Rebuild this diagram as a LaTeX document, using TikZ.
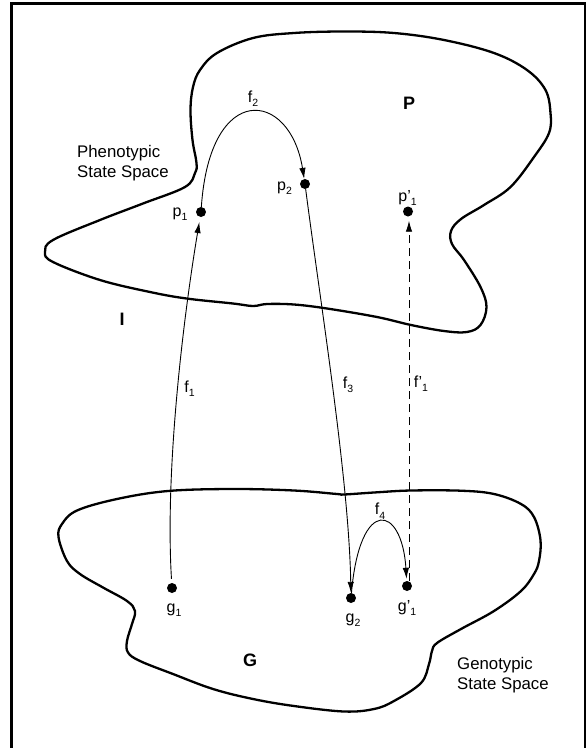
\documentclass[tikz,border=0pt]{standalone}
\usepackage{fontspec}
\setmainfont{Liberation Sans}
\usetikzlibrary{arrows.meta}
% lowered index digit for state labels
\newcommand{\sbs}[1]{\raisebox{-4.4pt}{\fontsize{10.5}{10.5}\selectfont #1}}
\begin{document}
\begin{tikzpicture}[x=1pt,y=-1pt,
  blob/.style={line width=2.3pt, line join=round},
  dot/.style={circle, fill=black, inner sep=0pt, minimum size=10pt},
  arr/.style={line width=0.9pt, -{Latex[length=11pt,width=6.5pt]}},
  lab/.style={inner sep=0pt, anchor=base, font=\fontsize{16}{16}\selectfont},
  txt/.style={inner sep=0pt, anchor=base west, font=\fontsize{16.8}{20}\selectfont},
  big/.style={inner sep=0pt, anchor=base, font=\fontsize{18}{18}\selectfont\bfseries}]
\useasboundingbox (0,0) rectangle (588,748);

% frame
\draw[line width=2.7pt] (11.5,752) -- (11.5,3.5) -- (585,3.5) -- (585,752);

% phenotypic state space
\draw[blob] plot[smooth cycle, tension=0.6] coordinates {
  (294,33) (344,31.5) (394,33) (444,40) (494,53) (527,70) (545.5,90)
  (550.5,113) (549,133) (534,157) (510.5,187) (484,205) (461,219)
  (451,231) (452,244) (464,260) (480.5,287) (486.5,307) (480.5,325)
  (467,332) (444,331) (411,325) (377,317) (327,308.5) (294,304.5)
  (267,304) (253,306) (233,303.5) (186.5,298.5) (150,292) (100,280)
  (53,262) (45,252) (53,240) (100,220) (143,203.5) (185,187) (195,173)
  (196.5,163) (192.5,140) (190.5,110) (193,87) (200,70) (217,53) (253,38)};

% genotypic state space
\draw[blob] plot[smooth cycle, tension=0.6] coordinates {
  (168,491) (233,489) (294,490.5) (337,494) (344,494.5) (377,492.3)
  (411,490.5) (461,490.7) (494,494) (521,504) (534,517) (540.5,540)
  (539,561) (534,574) (521,591) (494,611) (461,629) (437,643) (432,651)
  (429,664) (421,683) (394,701) (374,709) (344,711.5) (294,706) (253,699)
  (213,689) (173,674) (140,661) (128,652.5) (127,641) (132,624) (135,611)
  (127,601) (103,587.5) (80,574) (67,561) (58.5,537) (62,524) (77,510.5)
  (117,499)};

% states
\node[dot] (p1)  at (201,212) {};
\node[dot] (p2)  at (305,184) {};
\node[dot] (p1p) at (408,211.5) {};
\node[dot] (g1)  at (172,588) {};
\node[dot] (g2)  at (351,598) {};
\node[dot] (g1p) at (407,586) {};

% state labels
\node[lab] (lp1)  at (180,216)   {p\sbs{1}};
\node[lab] (lp2)  at (284.5,190.5) {p\sbs{2}};
\node[lab] (lp1p) at (407.5,201.5) {p'\sbs{1}};
\node[lab] (lg1)  at (174,612.4) {g\sbs{1}};
\node[lab] (lg2)  at (353,622)   {g\sbs{2}};
\node[lab] (lg1p) at (407,611)   {g'\sbs{1}};

% maps between states
\draw[arr, shorten <=4pt, shorten >=5pt] (g1) .. controls (165,470) and (183,320) .. (p1);
\draw[arr] (p1) .. controls (210,80) and (290,90) .. (p2);
\draw[arr] (p2) .. controls (320,300) and (349,480) .. (g2);
\draw[arr, shorten >=2pt] (g2) .. controls (360,495) and (402,505) .. (g1p);
\draw[arr, dash pattern=on 8pt off 5pt, shorten <=5pt, shorten >=4pt]
  ([xshift=2pt]g1p.center) -- ([xshift=1pt]p1p.south);

% map labels
\node[lab] (lf1)  at (189.5,392.3) {f\sbs{1}};
\node[lab] (lf2)  at (253,102.3)   {f\sbs{2}};
\node[lab] (lf3)  at (348,388)     {f\sbs{3}};
\node[lab] (lf4)  at (380,514.7)   {f\sbs{4}};
\node[lab] (lf1p) at (421,387.3)   {f'\sbs{1}};

% space labels
\node[big] (P) at (409,109) {P};
\node[big] (G) at (250,666) {G};
\node[big] (I) at (122,325) {I};
\node[txt] (ph1) at (77,157) {Phenotypic};
\node[txt] (ph2) at (77,177) {State Space};
\node[txt] (ge1) at (457,669) {Genotypic};
\node[txt] (ge2) at (457,689) {State Space};
\end{tikzpicture}
\end{document}
